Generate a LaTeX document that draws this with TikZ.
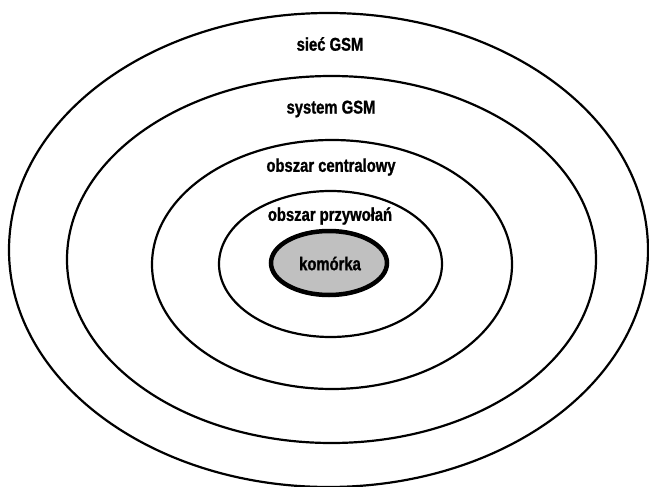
\documentclass[tikz,border=0pt]{standalone}
\usepackage{fontspec}
\setmainfont[FakeStretch=0.80,BoldFeatures={FakeBold=1.2}]{Liberation Sans}
\definecolor{cellgray}{RGB}{192,192,192}
\begin{document}
\begin{tikzpicture}[x=1pt,y=-1pt,
  ring/.style={draw=black,line width=2.2pt},
  lbl/.style={font=\fontsize{18.5}{20}\selectfont\bfseries,inner sep=0pt,text=black}]
\useasboundingbox (0,0) rectangle (649,487);
\draw[ring] (328.5,250) ellipse [x radius=319.5pt,y radius=237pt];
\draw[ring] (331.5,259.5) ellipse [x radius=264.5pt,y radius=183.5pt];
\draw[ring] (332,264.5) ellipse [x radius=180pt,y radius=124.5pt];
\draw[ring] (330.5,264) ellipse [x radius=111.5pt,y radius=73pt];
\draw[line width=4.5pt,fill=cellgray] (329,263) ellipse [x radius=58pt,y radius=32pt];
\node[lbl] (siec) at (330,44) {sieć GSM};
\node[lbl] (system) at (331,109) {system GSM};
\node[lbl] (central) at (331,167) {obszar centralowy};
\node[lbl] (przyw) at (330,216) {obszar przywołań};
\node[lbl] (kom) at (330,263.5) {komórka};
\end{tikzpicture}
\end{document}
